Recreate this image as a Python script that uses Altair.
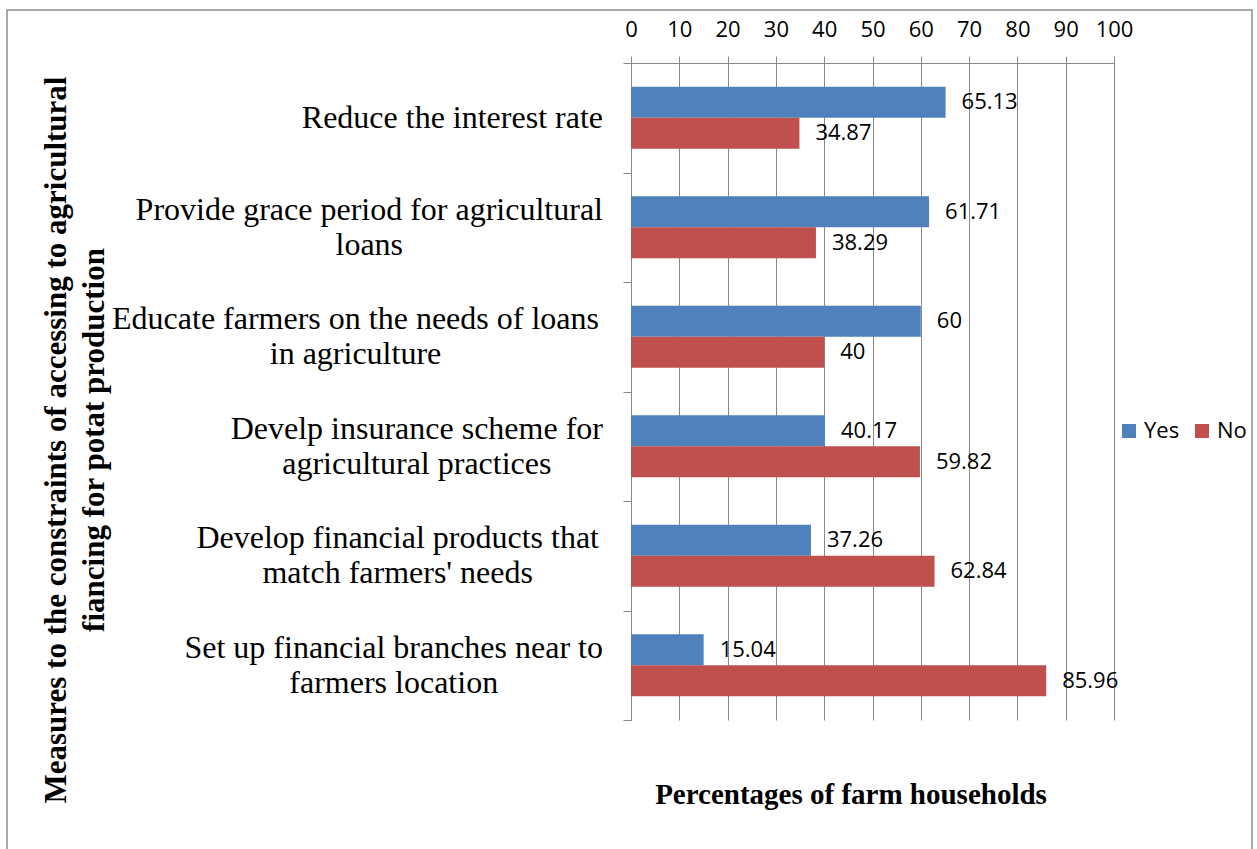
import altair as alt
import pandas as pd

# ---------------- data ----------------
categories = [
    "Reduce the interest rate",
    "Provide grace period for agricultural|loans",
    "Educate farmers on the needs of loans |in  agriculture",
    "Develp insurance scheme for|agricultural practices",
    "Develop  financial products that|match  farmers' needs",
    "Set up financial branches near to|farmers location",
]
yes_values = [65.13, 61.71, 60, 40.17, 37.26, 15.04]
no_values = [34.87, 38.29, 40, 59.82, 62.84, 85.96]
series_names = ["Yes", "No"]
series_colors = ["#4F81BD", "#C0504D"]
x_ticks = list(range(0, 101, 10))
x_title = "Percentages of farm households"
y_title = "Measures to the constraints of accessing to agricultural|fiancing for potat production"

# ---------------- layout ----------------
W, H = 483, 657
PAD = {"left": 631, "top": 63, "right": 1257 - 631 - W, "bottom": 849 - 63 - H}
GRID = "#878787"
CAT_FONT_SIZE = 32
CAT_LINE_H = 35
LABEL_GAP = 28

# Times (Liberation Serif) advance widths, per 1000 em
TIMES = {" ": 250, "'": 180, "a": 444, "b": 500, "c": 444, "d": 500, "e": 444, "f": 333,
         "g": 500, "h": 500, "i": 278, "j": 278, "k": 500, "l": 278, "m": 778, "n": 500,
         "o": 500, "p": 500, "q": 500, "r": 333, "s": 389, "t": 278, "u": 500, "v": 500,
         "w": 722, "x": 500, "y": 500, "z": 444, "D": 722, "E": 611, "P": 556, "R": 667,
         "S": 556, "M": 889}


def text_width(s, size):
    return sum(TIMES.get(ch, 500) for ch in s) / 1000.0 * size


px_per_unit = W / 100.0
cat_rows = []
for c in categories:
    lines = c.split("|")
    block = max(text_width(line, CAT_FONT_SIZE) for line in lines)
    cat_rows.append({"cat": c, "nlines": len(lines),
                     "lx": -(LABEL_GAP + block / 2.0) / px_per_unit})
cat_df = pd.DataFrame(cat_rows)

rows = []
for c, yv, nv in zip(categories, yes_values, no_values):
    rows.append({"cat": c, "series": "Yes", "value": yv, "label": f"{yv:g}"})
    rows.append({"cat": c, "series": "No", "value": nv, "label": f"{nv:g}"})
df = pd.DataFrame(rows)

x_scale = alt.Scale(domain=[0, 100], nice=False)
x_axis = alt.Axis(orient="top", values=x_ticks, title=None, grid=True, gridColor=GRID,
                  gridWidth=1, tickSize=7, tickColor=GRID, domainColor=GRID,
                  labelFont="Open Sans", labelFontSize=22, labelColor="black",
                  labelPadding=15, labelOverlap=False, labelFlush=False)
y_enc = alt.Y("cat:N", sort=categories,
              scale=alt.Scale(domain=categories, paddingInner=0, paddingOuter=0),
              axis=alt.Axis(title=None, labels=False, ticks=True, tickBand="extent",
                            tickSize=8, tickColor=GRID, domainColor=GRID, grid=False))
yoff = alt.YOffset("series:N", sort=series_names,
                   scale=alt.Scale(domain=series_names, paddingInner=0, paddingOuter=0.766))

bars = alt.Chart(df).mark_bar().encode(
    x=alt.X("value:Q", stack=None, scale=x_scale, axis=x_axis),
    y=y_enc,
    yOffset=yoff,
    color=alt.Color("series:N",
                    scale=alt.Scale(domain=series_names, range=series_colors),
                    legend=alt.Legend(title=None, orient="none", legendX=487, legendY=357,
                                      direction="horizontal", symbolType="square",
                                      symbolSize=196, symbolStrokeWidth=0,
                                      labelFont="Open Sans", labelFontSize=22,
                                      labelColor="black", columnPadding=11,
                                      labelOffset=4)),
)

value_labels = alt.Chart(df).mark_text(
    align="left", baseline="middle", dx=16, font="Open Sans", fontSize=22, color="black"
).encode(
    x=alt.X("value:Q", stack=None, scale=x_scale, axis=x_axis),
    y=y_enc,
    yOffset=yoff,
    text="label:N",
)


def cat_layer(n):
    return alt.Chart(cat_df).transform_filter(alt.datum.nlines == n).mark_text(
        align="center", baseline="middle", lineBreak="|", font="Liberation Serif",
        fontSize=CAT_FONT_SIZE, lineHeight=CAT_LINE_H, color="black",
        dy=-(n - 1) * CAT_LINE_H / 2.0
    ).encode(
        x=alt.X("lx:Q", scale=x_scale, axis=x_axis),
        y=y_enc,
        text="cat:N",
    )


one = alt.Data(values=[{"k": 1}])

y_title_mark = alt.Chart(one).mark_text(
    angle=270, align="center", baseline="middle", lineBreak="|",
    font="Liberation Serif", fontWeight="bold", fontSize=31, lineHeight=38, color="black"
).encode(x=alt.value(57 - 631), y=alt.value(440 - 63), text=alt.value(y_title))

x_title_mark = alt.Chart(one).mark_text(
    align="center", baseline="middle", font="Liberation Serif", fontWeight="bold",
    fontSize=29, color="black"
).encode(x=alt.value(851 - 631), y=alt.value(795 - 63), text=alt.value(x_title))

border = alt.Chart(one).mark_rect(
    fillOpacity=0, stroke="#8c8c8c", strokeWidth=1.5
).encode(x=alt.value(7 - 631), x2=alt.value(1252 - 631),
         y=alt.value(10 - 63), y2=alt.value(870 - 63))

chart = alt.layer(border, bars, value_labels, cat_layer(1), cat_layer(2),
                  y_title_mark, x_title_mark).properties(
    width=W, height=H,
    autosize=alt.AutoSizeParams(type="none"),
    padding=PAD,
    background="white",
).configure_view(stroke=None)

chart.save("out.html", embed_options={"renderer": "svg", "actions": False})
